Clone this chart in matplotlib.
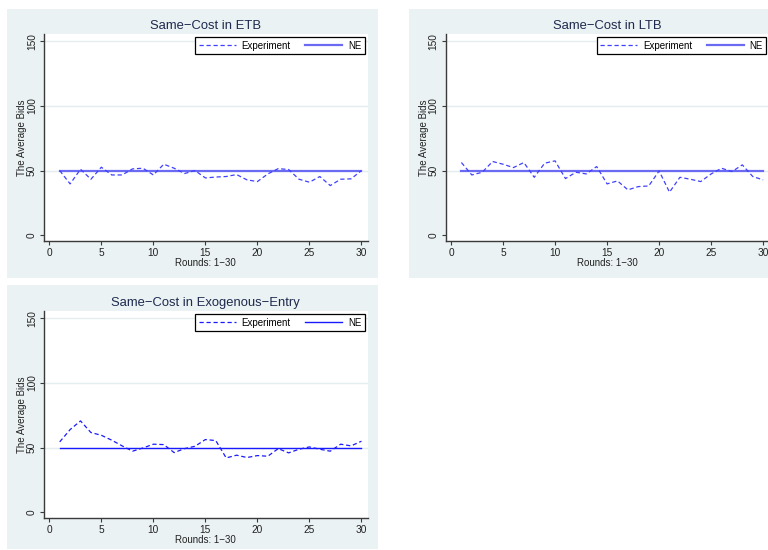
import numpy as np
import matplotlib
matplotlib.use("Agg")
import matplotlib.pyplot as plt
from matplotlib.patches import Rectangle

plt.rcParams['font.family'] = ['Liberation Sans', 'DejaVu Sans']

rounds = list(range(1, 31))
ne_value = 50

# average bids
etb_bids = [50.0, 39.7, 51.0, 43.3, 52.6, 46.6, 46.6, 51.3, 51.8, 46.6,
            54.9, 51.8, 47.7, 50.0, 44.3, 45.0, 45.4, 46.9, 42.8, 41.5,
            47.4, 51.5, 50.8, 43.3, 41.0, 45.4, 38.4, 43.3, 43.6, 50.0]
ltb_bids = [56.2, 46.6, 48.7, 57.0, 54.9, 52.3, 56.2, 44.8, 55.7, 57.5,
            43.8, 48.7, 47.4, 53.1, 39.7, 42.0, 35.1, 37.6, 38.1, 49.7,
            33.3, 44.8, 43.3, 41.5, 47.4, 51.8, 49.2, 54.4, 45.4, 42.8]
exo_bids = [54.4, 63.9, 70.6, 61.6, 59.5, 55.7, 51.3, 47.2, 49.7, 52.6,
            52.3, 46.1, 49.2, 51.0, 56.2, 55.4, 42.0, 44.1, 42.3, 43.8,
            43.3, 49.2, 45.9, 48.7, 50.5, 48.7, 47.2, 52.6, 51.3, 54.9]

titles = ["Same\u2212Cost in ETB", "Same\u2212Cost in LTB",
          "Same\u2212Cost in Exogenous\u2212Entry"]
series = [etb_bids, ltb_bids, exo_bids]

W, H = 768, 550
fig = plt.figure(figsize=(W / 100, H / 100), dpi=100)
fig.patch.set_facecolor("white")

bg = "#eaf2f3"
title_col = "#1e2a4e"

# (left, top) of plot region in px, and background box origin
panels = [(44, 34.3, 7, 9), (445.7, 34.3, 409, 9), (44, 311.3, 7, 285)]
pw, ph = 323.7, 206.4


def px_box(x0, y0, w, h):
    return [x0 / W, 1 - (y0 + h) / H, w / W, h / H]


for i, (lx, ty, bx, by) in enumerate(panels):
    bh = 269 if i < 2 else 264
    fig.patches.append(Rectangle((bx / W, 1 - (by + bh) / H), 371 / W, bh / H,
                                 transform=fig.transFigure, facecolor=bg,
                                 edgecolor="none", zorder=0))
    ax = fig.add_axes(px_box(lx, ty, pw, ph))
    ax.set_facecolor("white")
    ax.set_zorder(1)

    if i < 2:
        exp_col, ne_col, ne_lw = "#4040ff", "#6a6af2", 1.6
    else:
        exp_col, ne_col, ne_lw = "#1a1aff", "#1a1aff", 1.0

    for yg in [50, 100, 150]:
        ax.axhline(yg, color="#e4edef", lw=1.0, zorder=1)

    ax.plot(rounds, series[i], color=exp_col, lw=0.9, dashes=(3.4, 2.2),
            label="Experiment", zorder=3)
    ax.plot(rounds, [ne_value] * len(rounds), color=ne_col, lw=ne_lw,
            label="NE", zorder=2)

    ax.set_xlim(-0.51, 30.6)
    ax.set_ylim(-4.2, 155.3)
    ax.set_xticks(range(0, 31, 5))
    ax.set_yticks([0, 50, 100, 150])
    for s in ["top", "right"]:
        ax.spines[s].set_visible(False)
    for s in ["left", "bottom"]:
        ax.spines[s].set_color("#3a3a3a")
        ax.spines[s].set_linewidth(1.0)
    ax.tick_params(direction="out", length=3, width=0.8, color="#3a3a3a",
                   labelsize=7.3, labelcolor="#222222", pad=2)
    for lab in ax.get_yticklabels():
        lab.set_rotation(90)
        lab.set_va("center")

    ax.set_title(titles[i], fontsize=9.4, color=title_col, pad=3.5)
    ax.set_ylabel("The Average Bids", fontsize=7, color="#222222", labelpad=0)
    ax.set_xlabel("Rounds: 1\u221230", fontsize=7, color="#222222", labelpad=0)

    leg = ax.legend(loc="upper right", ncol=2, fontsize=7, frameon=True,
                    fancybox=False, edgecolor="black", framealpha=1,
                    handlelength=3.8, handletextpad=0.6, columnspacing=1.5,
                    borderaxespad=0.3, borderpad=0.35)
    leg.get_frame().set_linewidth(0.9)

fig.savefig("out.png", dpi=100, facecolor="white")
